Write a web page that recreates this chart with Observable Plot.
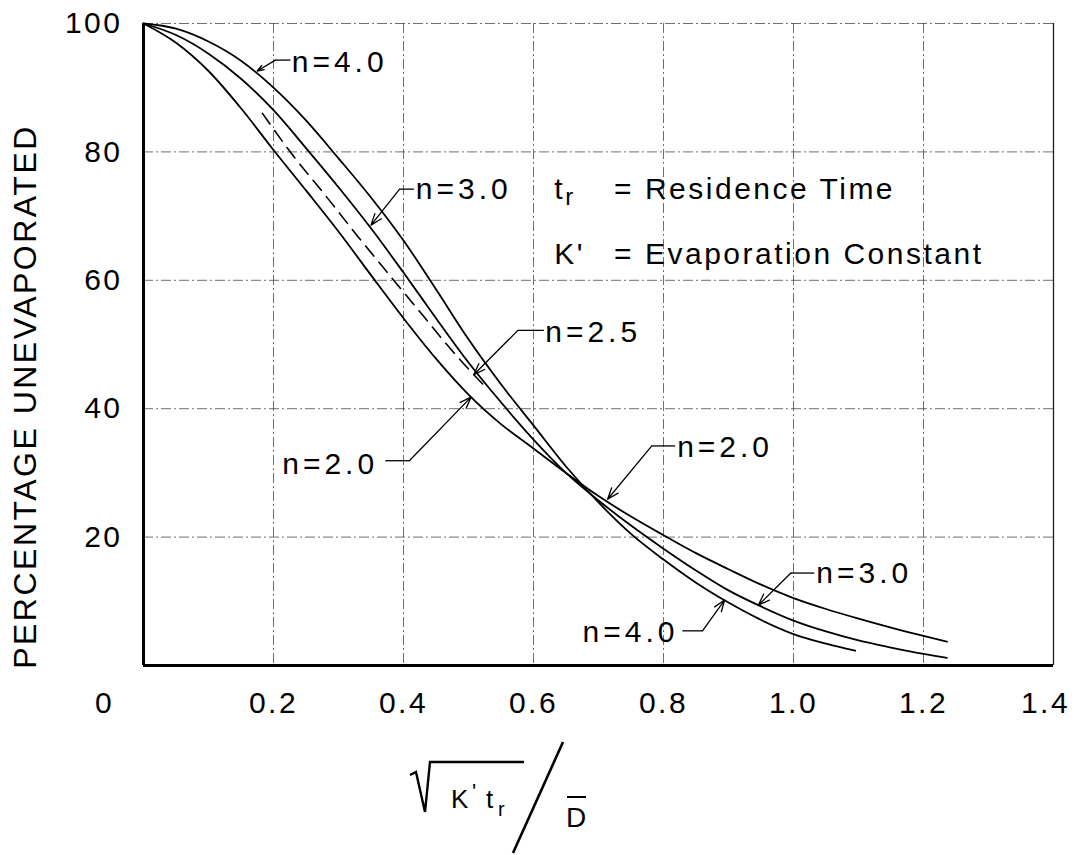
<!DOCTYPE html>
<html>
<head>
<meta charset="utf-8">
<script src="https://cdn.jsdelivr.net/npm/d3@7"></script>
<script src="https://cdn.jsdelivr.net/npm/@observablehq/plot@0.6"></script>
<style>
  html, body { margin: 0; padding: 0; background: #fff; }
  #chart { width: 1074px; height: 855px; position: relative; overflow: hidden; background: #fff;
           font-family: "Liberation Sans", Arial, sans-serif; color: #000; }
  #xtitle { position: absolute; left: 0; top: 735px; }
</style>
</head>
<body>
<div id="chart"></div>
<script>
// ---- tick values and labels ----
const xTicks = [0.2, 0.4, 0.6, 0.8, 1.0, 1.2];
const xTickLabels = ["0.2", "0.4", "0.6", "0.8", "1.0", "1.2"];
const xLastTick = 1.4;
const xLastTickLabel = "1.4";
const yTicks = [20, 40, 60, 80, 100];
const originLabel = "0";
const yTitle = "PERCENTAGE UNEVAPORATED";

// ---- curves (x = sqrt(K' t_r)/D, y = percentage unevaporated) ----
const curveN20 = [[0,100],[0.05,97.0],[0.1,92.6],[0.15,86.8],[0.2,80.3],[0.25,74.0],[0.3,67.6],
  [0.35,60.8],[0.4,54.1],[0.45,47.8],[0.5,42.2],[0.55,37.6],[0.6,33.8],[0.65,30.0],[0.7,26.4],
  [0.75,23.2],[0.8,20.3],[0.85,17.5],[0.9,15.0],[0.95,12.6],[1.0,10.5],[1.05,8.8],[1.1,7.3],
  [1.15,5.9],[1.2,4.6],[1.236,3.7]];
const curveN30 = [[0,100],[0.05,98.2],[0.1,95.3],[0.15,91.4],[0.2,86.5],[0.25,80.6],[0.3,74.5],
  [0.35,68.1],[0.4,61.2],[0.45,54.1],[0.5,47.2],[0.55,41.0],[0.6,35.2],[0.65,30.0],[0.7,25.7],
  [0.75,21.8],[0.8,18.2],[0.85,14.8],[0.9,11.7],[0.95,9.2],[1.0,7.0],[1.05,5.3],[1.1,3.9],
  [1.15,2.8],[1.2,1.8],[1.236,1.2]];
const curveN40 = [[0,100],[0.05,99.2],[0.1,97.2],[0.15,94.2],[0.2,90.0],[0.25,84.9],[0.3,79.0],
  [0.35,72.9],[0.4,66.2],[0.45,58.6],[0.5,50.8],[0.55,43.8],[0.6,37.4],[0.65,31.0],[0.7,25.4],
  [0.75,20.5],[0.8,16.5],[0.85,12.9],[0.9,9.8],[0.95,7.1],[1.0,4.9],[1.05,3.4],[1.095,2.3]];
const curveN25 = [[0.183,86.0],[0.228,79.7],[0.28,73.2],[0.33,66.8],[0.381,60.5],[0.43,54.5],
  [0.47,49.6],[0.51,45.1],[0.53,43.0]];

// ---- curve labels with leader arrows (data coordinates) ----
const leftLabels = [
  {label: "n=4.0", lx: 0.228, ly: 93.9, hx: 0.226, ex: 0.203, ey: 94.3, tx: 0.175, ty: 92.6},
  {label: "n=3.0", lx: 0.419, ly: 74.2, hx: 0.416, ex: 0.394, ey: 74.2, tx: 0.350, ty: 68.6},
  {label: "n=2.5", lx: 0.618, ly: 51.9, hx: 0.616, ex: 0.576, ey: 52.2, tx: 0.508, ty: 45.3},
  {label: "n=2.0", lx: 0.821, ly: 33.9, hx: 0.818, ex: 0.782, ey: 34.2, tx: 0.714, ty: 25.9},
  {label: "n=3.0", lx: 1.035, ly: 14.4, hx: 1.032, ex: 0.996, ey: 14.4, tx: 0.946, ty: 9.4}
];
const rightLabels = [
  {label: "n=2.0", lx: 0.361, ly: 31.3, hx: 0.372, ex: 0.409, ey: 31.9, tx: 0.504, ty: 41.8},
  {label: "n=4.0", lx: 0.823, ly: 5.1, hx: 0.829, ex: 0.860, ey: 5.4, tx: 0.894, ty: 10.2}
];

// ---- definitions block ----
const defSymbols = [{x: 0.632, y: 74.2, text: "t"}, {x: 0.632, y: 64.1, text: "K'"}];
const defSubscripts = [{x: 0.632, y: 74.2, text: "r"}];
const defTexts = [{x: 0.724, y: 74.2, text: "= Residence Time"}, {x: 0.724, y: 64.1, text: "= Evaporation Constant"}];

// ---- build tables ----
const toRows = (arr, n) => arr.map(([x, y]) => ({x, y, n}));
const solidRows = [...toRows(curveN20, "2.0"), ...toRows(curveN30, "3.0"), ...toRows(curveN40, "4.0")];
const dashedRows = toRows(curveN25, "2.5");
const allLeaders = [...leftLabels, ...rightLabels];

const gridStyle = {stroke: "#333", strokeOpacity: 0.7, strokeWidth: 1, strokeDasharray: "10,3,2,3"};

const plot = Plot.plot({
  width: 1074,
  height: 735,
  marginLeft: 143,
  marginRight: 21,
  marginTop: 23,
  marginBottom: 70,
  x: {domain: [0, 1.4]},
  y: {domain: [0, 100]},
  style: {fontFamily: '"Liberation Sans", Arial, sans-serif', fontSize: "30px", color: "#000",
          background: "#fff", letterSpacing: "2.5px"},
  marks: [
    Plot.gridX(xTicks, gridStyle),
    Plot.gridY(yTicks, gridStyle),
    Plot.ruleX([xLastTick], {stroke: "#222", strokeWidth: 1.3}),
    Plot.ruleX([0], {stroke: "#000", strokeWidth: 3}),
    Plot.ruleY([0], {stroke: "#000", strokeWidth: 3}),
    Plot.axisX(xTicks, {tickSize: 0, tickPadding: 26, label: null,
      tickFormat: d => xTickLabels[xTicks.indexOf(d)]}),
    Plot.axisX([xLastTick], {tickSize: 0, tickPadding: 26, label: null, dx: -8, tickFormat: () => xLastTickLabel}),
    Plot.axisX([0], {tickSize: 0, tickPadding: 26, label: null, dx: -39, tickFormat: () => originLabel}),
    Plot.axisY(yTicks, {tickSize: 0, tickPadding: 21, label: null}),
    Plot.text([yTitle], {frameAnchor: "left", text: d => d, rotate: -90, textAnchor: "middle",
      dx: -118, dy: 52, fontSize: 32}),
    Plot.line(solidRows, {x: "x", y: "y", z: "n", curve: "monotone-x", stroke: "#000", strokeWidth: 1.8}),
    Plot.line(dashedRows, {x: "x", y: "y", curve: "monotone-x", stroke: "#000", strokeWidth: 1.6,
      strokeDasharray: "13,8"}),
    Plot.link(allLeaders, {x1: "hx", x2: "ex", y1: "ey", y2: "ey", stroke: "#000", strokeWidth: 1.3}),
    Plot.arrow(allLeaders, {x1: "ex", y1: "ey", x2: "tx", y2: "ty", stroke: "#000", strokeWidth: 1.3,
      headLength: 14, headAngle: 40}),
    Plot.text(leftLabels, {x: "lx", y: "ly", text: "label", textAnchor: "start"}),
    Plot.text(rightLabels, {x: "lx", y: "ly", text: "label", textAnchor: "end"}),
    Plot.text(defSymbols, {x: "x", y: "y", text: "text", textAnchor: "start"}),
    Plot.text(defSubscripts, {x: "x", y: "y", text: "text", textAnchor: "start", dx: 11, dy: 8, fontSize: 24}),
    Plot.text(defTexts, {x: "x", y: "y", text: "text", textAnchor: "start"})
  ]
});

// wider letter spacing for curve labels
d3.select(plot).selectAll("text").filter(function() { return /^n=/.test(this.textContent); })
  .style("letter-spacing", "4px");

const chart = document.getElementById("chart");
chart.appendChild(plot);

// x-axis title: sqrt(K' t_r) / D-bar
const xt = document.createElement("div");
xt.id = "xtitle";
xt.innerHTML = `
<svg width="1074" height="120" xmlns="http://www.w3.org/2000/svg" style="font-family:'Liberation Sans',Arial,sans-serif">
  <path d="M 410 40 L 416 37 L 425 77 L 430 27 L 524 27" fill="none" stroke="#000" stroke-width="2.4" stroke-linejoin="miter"/>
  <text x="451" y="73" font-size="26">K</text>
  <text x="472" y="64" font-size="22">'</text>
  <text x="486" y="73" font-size="26">t</text>
  <text x="498" y="81" font-size="20">r</text>
  <line x1="563" y1="7" x2="513" y2="118" stroke="#000" stroke-width="2.6"/>
  <line x1="567" y1="62" x2="586" y2="62" stroke="#000" stroke-width="2"/>
  <text x="566" y="92" font-size="28">D</text>
</svg>`;
chart.appendChild(xt);
</script>
</body>
</html>
